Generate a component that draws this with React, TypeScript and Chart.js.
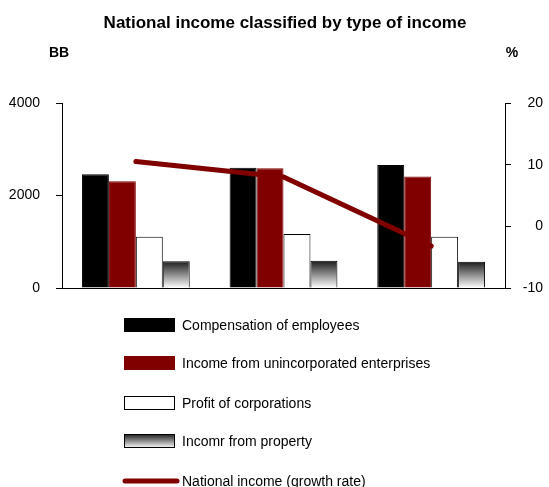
import React, { useEffect, useRef } from 'react';
import { Chart, registerables } from 'chart.js';

Chart.register(...registerables);

const categories = ['Period 1', 'Period 2', 'Period 3'];
const compensation = [2460, 2600, 2660];
const unincorporated = [2310, 2590, 2410];
const profit = [1110, 1170, 1110];
const propertyIncome = [580, 590, 570];
const growthRate = [10.5, 8.0, -3.2];

const seriesNames = [
  'Compensation of employees',
  'Income from unincorporated enterprises',
  'Profit of corporations',
  'Incomr from property',
  'National income (growth rate)',
];
const titleText = 'National income classified by type of income';
const leftUnit = 'BB';
const rightUnit = '%';

const DARK_RED = '#800000';
const FONT = '"Liberation Sans", Arial, sans-serif';

function gradientFill(ctx: any) {
  const chart = ctx.chart;
  const ys = chart.scales && chart.scales.y;
  if (!ys || ctx.type !== 'data') return '#777';
  const v = ctx.parsed ? ctx.parsed.y : ctx.raw;
  const top = ys.getPixelForValue(v);
  const bottom = ys.getPixelForValue(0);
  if (!isFinite(top) || !isFinite(bottom)) return '#777';
  const g = chart.ctx.createLinearGradient(0, top, 0, bottom);
  g.addColorStop(0, '#1a1a1a');
  g.addColorStop(1, '#ffffff');
  return g;
}

const textPlugin = {
  id: 'customTexts',
  afterDraw(chart: any) {
    const c = chart.ctx;
    c.save();
    c.fillStyle = '#000';
    c.textBaseline = 'middle';
    c.font = `bold 17px ${FONT}`;
    c.textAlign = 'center';
    c.fillText(titleText, 285, 23);
    c.font = `bold 14px ${FONT}`;
    c.fillText(leftUnit, 59, 53);
    c.fillText(rightUnit, 512, 53);

    // legend
    const boxX = 124;
    const boxW = 51;
    const boxH = 14;
    const ys = [325, 363, 403, 441, 481];
    c.font = `14px ${FONT}`;
    c.textAlign = 'left';
    for (let i = 0; i < 5; i++) {
      const cy = ys[i];
      const top = cy - boxH / 2;
      if (i === 0) {
        c.fillStyle = '#000';
        c.fillRect(boxX, top, boxW, boxH);
      } else if (i === 1) {
        c.fillStyle = DARK_RED;
        c.fillRect(boxX, top, boxW, boxH);
      } else if (i === 2) {
        c.fillStyle = '#fff';
        c.fillRect(boxX, top, boxW, boxH);
        c.strokeStyle = '#000';
        c.lineWidth = 1;
        c.strokeRect(boxX + 0.5, top + 0.5, boxW - 1, boxH - 1);
      } else if (i === 3) {
        const g = c.createLinearGradient(0, top, 0, top + boxH);
        g.addColorStop(0, '#1a1a1a');
        g.addColorStop(1, '#ffffff');
        c.fillStyle = g;
        c.fillRect(boxX, top, boxW, boxH);
        c.strokeStyle = '#000';
        c.lineWidth = 1;
        c.strokeRect(boxX + 0.5, top + 0.5, boxW - 1, boxH - 1);
      } else {
        c.strokeStyle = DARK_RED;
        c.lineWidth = 5;
        c.lineCap = 'round';
        c.beginPath();
        c.moveTo(boxX + 1, cy);
        c.lineTo(boxX + boxW + 2, cy);
        c.stroke();
      }
      c.fillStyle = '#000';
      c.fillText(seriesNames[i], 182, cy + 1);
    }
    c.restore();
  },
};

export default function App() {
  const ref = useRef<HTMLCanvasElement | null>(null);

  useEffect(() => {
    if (!ref.current) return;
    const chart = new Chart(ref.current, {
      type: 'bar',
      data: {
        labels: categories,
        datasets: [
          {
            type: 'line',
            label: seriesNames[4],
            data: growthRate,
            yAxisID: 'y1',
            borderColor: DARK_RED,
            backgroundColor: DARK_RED,
            borderWidth: 5,
            borderCapStyle: 'round',
            pointRadius: 0,
            tension: 0,
            order: 0,
          } as any,
          {
            label: seriesNames[0],
            data: compensation,
            yAxisID: 'y',
            backgroundColor: '#000',
            borderColor: '#000',
            borderWidth: 1,
            order: 1,
          },
          {
            label: seriesNames[1],
            data: unincorporated,
            yAxisID: 'y',
            backgroundColor: DARK_RED,
            borderColor: DARK_RED,
            borderWidth: 1,
            order: 1,
          },
          {
            label: seriesNames[2],
            data: profit,
            yAxisID: 'y',
            backgroundColor: '#fff',
            borderColor: '#000',
            borderWidth: 1,
            order: 1,
          },
          {
            label: seriesNames[3],
            data: propertyIncome,
            yAxisID: 'y',
            backgroundColor: gradientFill,
            borderColor: '#000',
            borderWidth: 1,
            order: 1,
          },
        ],
      },
      options: {
        responsive: false,
        animation: false,
        layout: { padding: { top: 103, bottom: 199, left: 0, right: 6 } },
        datasets: {
          bar: { categoryPercentage: 0.73, barPercentage: 1.0 },
        },
        plugins: {
          legend: { display: false },
          title: { display: false },
          tooltip: { enabled: false },
        },
        scales: {
          x: {
            type: 'category',
            ticks: { display: false },
            grid: { display: false },
            border: { display: true, color: '#000', width: 1 },
            afterFit: (s: any) => {
              s.height = 0;
            },
          },
          y: {
            type: 'linear',
            position: 'left',
            min: 0,
            max: 4000,
            ticks: {
              stepSize: 2000,
              color: '#000',
              padding: 16,
              font: { family: FONT, size: 14 },
              callback: (v: any) => String(v),
            },
            grid: {
              display: true,
              drawOnChartArea: false,
              drawTicks: true,
              tickLength: 6,
              color: '#000',
            },
            border: { display: true, color: '#000', width: 1 },
            afterFit: (s: any) => {
              s.width = 62;
            },
          },
          y1: {
            type: 'linear',
            position: 'right',
            min: -10,
            max: 20,
            ticks: {
              stepSize: 10,
              color: '#000',
              padding: 2,
              crossAlign: 'far',
              font: { family: FONT, size: 14 },
              callback: (v: any) => String(v),
            },
            grid: {
              display: true,
              drawOnChartArea: false,
              drawTicks: true,
              tickLength: 6,
              color: '#000',
            },
            border: { display: true, color: '#000', width: 1 },
            afterFit: (s: any) => {
              s.width = 38;
            },
          },
        },
      } as any,
      plugins: [textPlugin],
    });
    return () => chart.destroy();
  }, []);

  return (
    <div style={{ position: 'fixed', left: 0, top: 0, width: 549, height: 487, background: '#fff' }}>
      <canvas ref={ref} width={549} height={487} style={{ display: 'block' }} />
    </div>
  );
}
